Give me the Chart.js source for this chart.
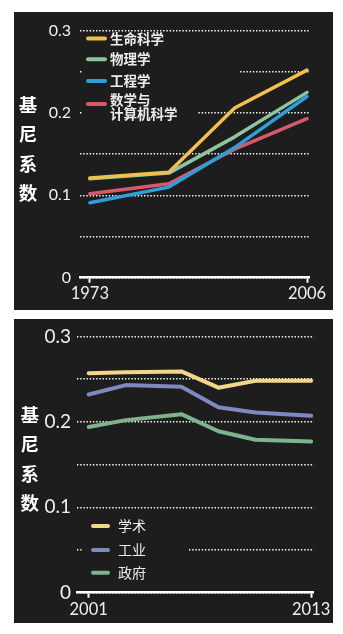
<!DOCTYPE html>
<html>
<head>
<meta charset="utf-8">
<script src="https://cdn.jsdelivr.net/npm/chart.js@4"></script>
<style>
  html, body { margin: 0; padding: 0; background: #ffffff; width: 343px; height: 634px; overflow: hidden; }
  .panel { position: absolute; left: 14px; width: 319px; background: #1d1d1d; }
  #p1 { top: 12px; height: 298px; }
  #p2 { top: 319px; height: 304px; }
  canvas { display: block; }
</style>
</head>
<body>
<div class="panel" id="p1"><canvas id="c1" width="319" height="298"></canvas></div>
<div class="panel" id="p2"><canvas id="c2" width="319" height="304"></canvas></div>
<script>
// Gini coefficient by field, survey years
const fieldYears = [1973, 1985, 1995, 2006];
const fieldNames = ['生命科学', '物理学', '工程学', '数学与\n计算机科学'];
const lifeSciences = [0.121, 0.128, 0.206, 0.252];
const physicalSciences = [0.120, 0.127, 0.171, 0.225];
const engineering = [0.091, 0.110, 0.158, 0.220];
const mathComputerSci = [0.102, 0.114, 0.156, 0.193];
const fieldTickYears = [1973, 2006];

// Gini coefficient by employment sector
const sectorYears = [2001, 2003, 2006, 2008, 2010, 2013];
const sectorNames = ['学术', '工业', '政府'];
const academic = [0.257, 0.258, 0.259, 0.240, 0.248, 0.248];
const industry = [0.232, 0.243, 0.241, 0.217, 0.211, 0.207];
const government = [0.194, 0.202, 0.209, 0.189, 0.179, 0.177];
const sectorTickYears = [2001, 2013];

const giniLabels = [0, 0.1, 0.2, 0.3];
const axisTitle = '基尼系数';

const LATIN = 'Lato, "Noto Sans", sans-serif';
const CJK = '"Noto Sans CJK SC", "Noto Sans", sans-serif';
const PANEL_BG = '#1d1d1d';

Chart.defaults.font.family = LATIN;
Chart.defaults.color = '#f0f0f0';

function pairs(xs, ys) {
  return xs.map((x, i) => ({ x: x, y: ys[i] }));
}

function giniLabel(v) {
  const r = Math.round(v * 100) / 100;
  const hit = giniLabels.find(g => Math.abs(g - r) < 1e-6);
  return hit === undefined ? '' : String(hit);
}

// Draws the legend (with a dark backing that cuts the dotted grid) and the stacked axis title
const panelDecor = {
  id: 'panelDecor',
  beforeDatasetsDraw(chart, args, o) {
    const ctx = chart.ctx;
    ctx.save();
    ctx.fillStyle = PANEL_BG;
    o.masks.forEach(m => ctx.fillRect(m[0], m[1], m[2], m[3]));
    ctx.font = o.legendFont;
    ctx.textBaseline = 'middle';
    ctx.textAlign = 'left';
    chart.data.datasets.forEach((ds, i) => {
      const lines = ds.label.split('\n');
      const y0 = o.rows[i];
      const sy = y0 + (lines.length - 1) * o.lineH * 0.28;
      ctx.strokeStyle = ds.borderColor;
      ctx.lineWidth = o.swatchWidth;
      ctx.lineCap = 'round';
      ctx.beginPath();
      ctx.moveTo(o.swatchX0, sy);
      ctx.lineTo(o.swatchX1, sy);
      ctx.stroke();
      ctx.fillStyle = o.textColor;
      lines.forEach((t, k) => ctx.fillText(t, o.textX, y0 + k * o.lineH));
    });
    ctx.restore();
  },
  afterDraw(chart, args, o) {
    const ctx = chart.ctx;
    ctx.save();
    ctx.font = o.titleFont;
    ctx.fillStyle = '#ffffff';
    ctx.textAlign = 'center';
    ctx.textBaseline = 'middle';
    Array.from(axisTitle).forEach((ch, i) => ctx.fillText(ch, o.titleX, o.titleY + i * o.titleStep));
    ctx.restore();
  }
};

function buildChart(id, p) {
  return new Chart(document.getElementById(id), {
    type: 'line',
    data: { datasets: p.datasets },
    plugins: [panelDecor],
    options: {
      responsive: false,
      devicePixelRatio: 1,
      animation: false,
      events: [],
      layout: { padding: p.padding },
      elements: {
        point: { radius: 0 },
        line: { tension: 0, borderCapStyle: 'round', borderJoinStyle: 'round', fill: false }
      },
      plugins: {
        legend: { display: false },
        tooltip: { enabled: false },
        panelDecor: p.decor
      },
      scales: {
        x: {
          type: 'linear',
          min: p.xMin,
          max: p.xMax,
          afterBuildTicks: s => { s.ticks = p.tickYears.map(v => ({ value: v })); },
          afterFit: s => { s.height = p.xHeight; },
          grid: {
            drawOnChartArea: false,
            drawTicks: true,
            tickLength: 5,
            tickColor: '#ffffff',
            tickWidth: 2
          },
          border: { display: true, color: '#ffffff', width: 2.5 },
          ticks: {
            autoSkip: false,
            maxRotation: 0,
            padding: p.xPad,
            color: '#f0f0f0',
            font: { size: 16.5 },
            callback: v => String(v)
          }
        },
        y: {
          min: 0,
          max: 0.3,
          afterBuildTicks: s => { s.ticks = [0, 0.05, 0.1, 0.15, 0.2, 0.25, 0.3].map(v => ({ value: v })); },
          afterFit: s => { s.width = p.yWidth; },
          grid: {
            drawTicks: false,
            color: '#ffffff',
            lineWidth: 1.4
          },
          border: { display: false, dash: [1.4, 1.8] },
          ticks: {
            padding: p.yPad,
            color: '#f0f0f0',
            font: { size: p.yFont },
            callback: v => giniLabel(v)
          }
        }
      }
    }
  });
}

function lineSet(label, xs, ys, color, width) {
  return {
    label: label,
    data: pairs(xs, ys),
    borderColor: color,
    borderWidth: width,
    clip: false
  };
}

buildChart('c1', {
  datasets: [
    lineSet(fieldNames[0], fieldYears, lifeSciences, '#f2c04f', 3.5),
    lineSet(fieldNames[1], fieldYears, physicalSciences, '#8dc59f', 3.5),
    lineSet(fieldNames[2], fieldYears, engineering, '#2e9fd9', 3.5),
    lineSet(fieldNames[3], fieldYears, mathComputerSci, '#d8596b', 3.5)
  ],
  padding: { top: 12, right: 24, left: 0, bottom: 0 },
  xMin: 1971.5, xMax: 2006.3, tickYears: fieldTickYears,
  xHeight: 32.3, xPad: 1.5,
  yWidth: 66, yPad: 9, yFont: 16,
  decor: {
    masks: [[69, 20, 114, 92], [183, 47, 43, 14]],
    rows: [26.5, 47.3, 69, 88],
    lineH: 14.3,
    swatchX0: 74, swatchX1: 91, swatchWidth: 4,
    textX: 96,
    textColor: '#ececec',
    legendFont: 'bold 13.5px ' + CJK,
    titleFont: 'bold 18.5px ' + CJK,
    titleX: 14, titleY: 93, titleStep: 29.3
  }
});

buildChart('c2', {
  datasets: [
    lineSet(sectorNames[0], sectorYears, academic, '#f3d68a', 4),
    lineSet(sectorNames[1], sectorYears, industry, '#7e89bf', 4),
    lineSet(sectorNames[2], sectorYears, government, '#7db48c', 4)
  ],
  padding: { top: 10, right: 17.5, left: 0, bottom: 0 },
  xMin: 2000.37, xMax: 2013.15, tickYears: sectorTickYears,
  xHeight: 30.3, xPad: 2.5,
  yWidth: 63, yPad: 6, yFont: 19,
  decor: {
    masks: [[69, 195, 105, 70]],
    rows: [207, 231, 253.7],
    lineH: 14.3,
    swatchX0: 79, swatchX1: 94, swatchWidth: 4,
    textX: 104,
    textColor: '#ececec',
    legendFont: '14px ' + CJK,
    titleFont: 'bold 18.5px ' + CJK,
    titleX: 15.7, titleY: 96, titleStep: 29.3
  }
});
</script>
</body>
</html>
